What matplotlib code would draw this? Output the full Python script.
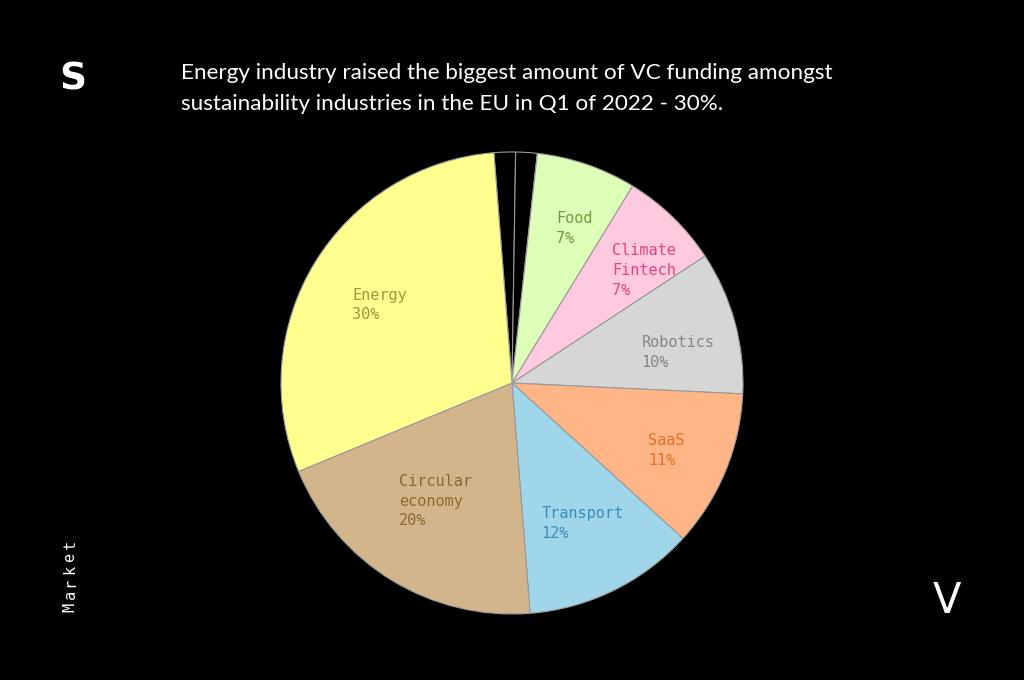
import numpy as np
import matplotlib.pyplot as plt

# slices, clockwise from the top
labels = ["", "", "Food", "Climate\nFintech", "Robotics", "SaaS", "Transport", "Circular\neconomy", "Energy"]
shares = [1.5, 1.5, 7, 7, 10, 11, 12, 20, 30]
slice_colors = ["#000000", "#000000", "#ddffb8", "#ffc9e0", "#d6d6d6", "#ffb585",
                "#9fd6ea", "#d2b58a", "#ffff8f"]
text_colors = ["#000000", "#000000", "#6f9a3d", "#e0457f", "#858585", "#e0702a",
               "#3b8db8", "#8b6a30", "#9a9a3a"]
# label placement: radius fraction and small angle nudge (degrees)
label_dist = [0, 0, 0.72, 0.75, 0.73, 0.73, 0.68, 0.61, 0.665]
label_nudge = [0, 0, -3, -5.5, -5, -1, 0.5, -1.5, 1]

title = ("Energy industry raised the biggest amount of VC funding amongst\n"
         "sustainability industries in the EU in Q1 of 2022 - 30%.")

fig = plt.figure(figsize=(10.24, 6.8), dpi=100)
fig.set_facecolor("black")

ax = fig.add_axes([281 / 1024, 66 / 680, 462 / 1024, 462 / 680])
ax.set_facecolor("black")
wedges, _ = ax.pie(shares, colors=slice_colors, startangle=94.5, counterclock=False,
                   wedgeprops=dict(edgecolor="#9a9a9a", linewidth=0.8))
ax.set_xlim(-1, 1)
ax.set_ylim(-1, 1)
ax.set_aspect("equal")
ax.axis("off")

for w, lab, share, col, d, nd in zip(wedges, labels, shares, text_colors,
                                      label_dist, label_nudge):
    if not lab:
        continue
    mid = np.deg2rad((w.theta1 + w.theta2) / 2 + nd)
    ax.text(d * np.cos(mid), d * np.sin(mid), f"{lab}\n{share:g}%",
            ha="center", va="center", multialignment="left", color=col,
            family="DejaVu Sans Mono", fontsize=11, linespacing=1.4)

fig.text(181 / 1024, 1 - 88.5 / 680, title, color="white", family="Lato",
         fontsize=16.2, ha="left", va="center", linespacing=1.65)
fig.text(73 / 1024, 1 - 80 / 680, "S", color="white", family="DejaVu Sans",
         fontweight="bold", fontsize=27, ha="center", va="center")
fig.text(947 / 1024, 1 - 601 / 680, "V", color="white", family="DejaVu Sans",
         fontsize=30, ha="center", va="center")
for i, ch in enumerate("Market"):
    fig.text(70 / 1024, 1 - (607 - i * 12.5) / 680, ch, color="white",
             family="DejaVu Sans Mono", fontsize=11, rotation=90,
             ha="center", va="center")

fig.savefig("out.png", dpi=100, facecolor="black")
